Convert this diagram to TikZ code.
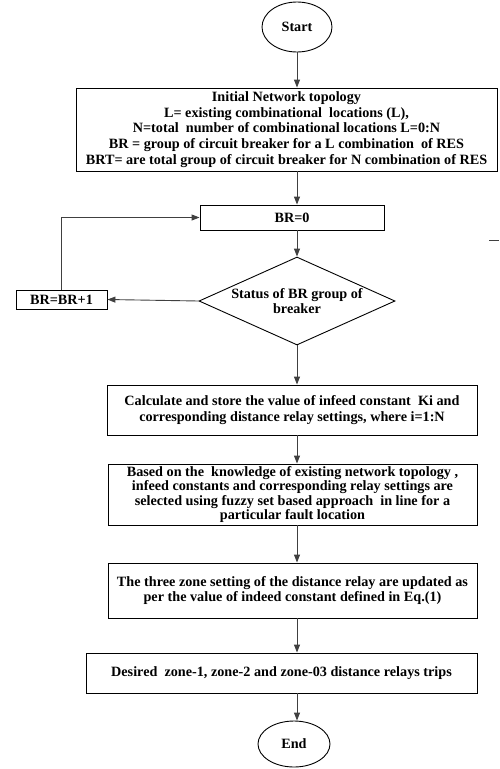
\documentclass[tikz,border=0pt]{standalone}
\usepackage{fontspec}
\setmainfont{Liberation Serif}
\usepackage{tikz}
\usetikzlibrary{shapes.geometric,arrows.meta}

\begin{document}
\begin{tikzpicture}[x=1pt,y=-1pt,
    line width=0.9pt,
    every node/.style={font=\fontsize{14.2}{15.8}\selectfont\bfseries, align=center},
    terminal/.style={draw, ellipse, inner sep=0pt},
    process/.style={draw, rectangle, inner sep=0pt},
    decision/.style={draw, diamond, inner sep=0pt},
    flow/.style={-{Triangle[length=8pt,width=6pt]}, draw=black!75}]
    \useasboundingbox (0,0) rectangle (499,769);

    % Start and set-up
    \node[terminal, minimum width=70, minimum height=50] (start) at (297,27) {Start};
    \node[process, minimum width=421, minimum height=83] (init) at (286.5,129.5)
        {Initial Network topology\\
         L= existing combinational\ \ locations (L),\\
         N=total\ \ number of combinational locations L=0:N\\
         BR = group of circuit breaker for a L combination\ \ of RES\\
         BRT= are total group of circuit breaker for N combination of RES};
    \node[process, minimum width=184, minimum height=25] (br0) at (292,217.5) {BR=0};

    % Breaker group check
    \node[decision, minimum width=196, minimum height=88] (status) at (297,301) {};
    \node at (status) {Status of BR group of\\breaker};
    \node[process, minimum width=91, minimum height=19] (inc) at (61.5,299.5) {BR=BR+1};

    % Relay settings
    \node[process, minimum width=370, minimum height=50] (calc) at (292,410)
        {Calculate and store the value of infeed constant\ \ Ki and\\
         corresponding distance relay settings, where i=1:N};
    \node[process, minimum width=369, minimum height=61,
          font=\fontsize{14.2}{14.6}\selectfont\bfseries] (fuzzy) at (292.5,494.5)
        {Based on the\ \ knowledge of existing network topology ,\\
         infeed constants and corresponding relay settings are\\
         selected using fuzzy set based approach\ \ in line for a\\
         particular fault location};
    \node[process, minimum width=369, minimum height=55] (update) at (292.5,590.5)
        {The three zone setting of the distance relay are updated as\\
         per the value of indeed constant defined in Eq.(1)};
    \node[process, minimum width=391, minimum height=40] (trips) at (281.5,673)
        {Desired\ \ zone-1, zone-2 and zone-03 distance relays trips};
    \node[terminal, minimum width=72, minimum height=46] (end) at (294,744) {End};

    % Connectors
    \draw[flow] (start.south -| 297,0) -- (init.north -| 297,0);
    \draw[flow] (init.south -| 297,0) -- (br0.north -| 297,0);
    \draw[flow] (br0.south -| 297,0) -- (status.north);
    \draw[flow] (status.west) -- (inc.east);
    \draw[flow] (inc.north) |- (br0.west);
    \draw[flow] (status.south) -- (calc.north -| status.south);
    \draw[flow] (calc.south -| status.south) -- (fuzzy.north -| status.south);
    \draw[flow] (fuzzy.south -| status.south) -- (update.north -| status.south);
    \draw[flow] (update.south -| status.south) -- (trips.north -| status.south);
    \draw[flow] (trips.south -| status.south) -- (end.north -| status.south);

    \draw[black!75] (489,240) -- (499,240);
\end{tikzpicture}
\end{document}
